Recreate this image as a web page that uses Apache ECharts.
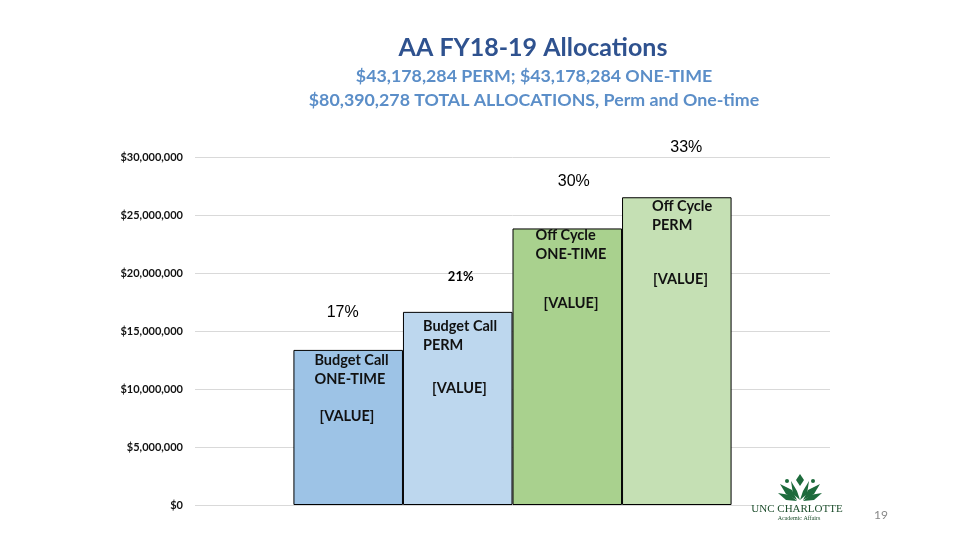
<!DOCTYPE html>
<html>
<head>
<meta charset="utf-8">
<script src="https://cdn.jsdelivr.net/npm/echarts@6/dist/echarts.min.js"></script>
<style>html,body{margin:0;padding:0;background:#fff}#c{width:960px;height:540px}</style>
</head>
<body>
<div id="c"></div>
<script>
// ---- data ----
const categories = ['FY18-19'];
const seriesNames = ['Budget Call ONE-TIME', 'Budget Call PERM', 'Off Cycle ONE-TIME', 'Off Cycle PERM'];
const labelLine1 = ['Budget Call', 'Budget Call', 'Off Cycle', 'Off Cycle'];
const labelLine2 = ['ONE-TIME', 'PERM', 'ONE-TIME', 'PERM'];
const values = [13370000, 16650000, 23840000, 26530000];
const percentLabels = ['17%', '21%', '30%', '33%'];
const yMin = 0, yMax = 30000000, yInterval = 5000000;
const titleText = 'AA FY18-19 Allocations';
const subText = '$43,178,284 PERM; $43,178,284 ONE-TIME\n$80,390,278 TOTAL ALLOCATIONS, Perm and One-time';

// ---- styles ----
const barColors = ['#9dc3e6', '#bdd7ee', '#a9d18e', '#c5e0b4'];
const innerPos = [[21, 1], [20, 4.5], [23, -2.5], [30, -0.5]];
const valuePad = [5, 9, 8, 1];
const valueLineH = [55, 67, 79, 89];
const pctOffset = [[-5.5, -37], [3, -35], [6.5, -47], [9.5, -50]];
const pctFont = [
  {fontFamily: 'Liberation Sans', fontSize: 16, fontWeight: 'normal'},
  {fontFamily: 'Lato', fontSize: 13, fontWeight: 'bold'},
  {fontFamily: 'Liberation Sans', fontSize: 16, fontWeight: 'normal'},
  {fontFamily: 'Liberation Sans', fontSize: 16, fontWeight: 'normal'}
];
const logoGreen = '#1d6b3c';

const chart = echarts.init(document.getElementById('c'), null, {renderer: 'canvas'});

const series = values.map((v, i) => ({
  name: seriesNames[i],
  type: 'bar',
  data: [v],
  barGap: '0%',
  barCategoryGap: '31%',
  itemStyle: {color: barColors[i], borderColor: '#000', borderWidth: 1},
  label: {
    show: true,
    position: innerPos[i],
    align: 'left',
    verticalAlign: 'top',
    formatter: '{t|' + labelLine1[i] + '}\n{t|' + labelLine2[i] + '}\n{v|[VALUE]}',
    rich: {
      t: {fontFamily: 'Lato', fontSize: 14.5, fontWeight: 'bold', color: '#111', lineHeight: 19},
      v: {fontFamily: 'Lato', fontSize: 14.5, fontWeight: 'bold', color: '#111', lineHeight: valueLineH[i], padding: [0, 0, 0, valuePad[i]]}
    }
  },
  markPoint: {
    symbol: 'rect',
    symbolSize: 0,
    silent: true,
    data: [{coord: [categories[0], v], value: percentLabels[i]}],
    label: Object.assign({show: true, position: 'inside', offset: pctOffset[i], color: '#000', formatter: percentLabels[i]}, pctFont[i])
  },
  emphasis: {disabled: true}
}));

function poly(pts) {
  return {type: 'polygon', z: 101, shape: {points: pts}, style: {fill: logoGreen}};
}

chart.setOption({
  animation: false,
  backgroundColor: '#fff',
  title: [
    {text: titleText, left: 528, top: 30, textAlign: 'center',
     textStyle: {fontFamily: 'Lato', fontSize: 25, fontWeight: 'bold', color: '#2f528f'}},
    {text: subText, left: 529, top: 59, textAlign: 'center',
     textStyle: {fontFamily: 'Lato', fontSize: 17.8, fontWeight: 'bold', color: '#5b8ec8', lineHeight: 24}}
  ],
  grid: {left: 195, right: 130, top: 157, bottom: 35, containLabel: false},
  xAxis: {
    type: 'category',
    data: categories,
    axisLine: {show: false},
    axisTick: {show: false},
    axisLabel: {show: false}
  },
  yAxis: {
    type: 'value',
    min: yMin, max: yMax, interval: yInterval,
    axisLine: {show: false},
    axisTick: {show: false},
    splitLine: {lineStyle: {color: '#d9d9d9', width: 1}},
    axisLabel: {
      margin: 12,
      fontFamily: 'Lato', fontSize: 11, fontWeight: 'bold', color: '#111',
      formatter: v => '$' + v.toLocaleString('en-US')
    }
  },
  series: series,
  graphic: {
    elements: [
      {type: 'rect', z: 100, shape: {x: 752, y: 470, width: 100, height: 55}, style: {fill: '#ffffff'}},
      poly([[800, 474], [804, 480], [800, 486], [796, 480]]),
      poly([[791, 481], [797, 491], [800, 500], [793, 494]]),
      poly([[809, 481], [803, 491], [800, 500], [807, 494]]),
      poly([[780, 484], [792, 490], [797, 500], [786, 494]]),
      poly([[820, 484], [808, 490], [803, 500], [814, 494]]),
      poly([[778, 493], [790, 495], [797, 501], [786, 500]]),
      poly([[822, 493], [810, 495], [803, 501], [814, 500]]),
      {type: 'circle', z: 101, shape: {cx: 787, cy: 481, r: 2}, style: {fill: logoGreen}},
      {type: 'circle', z: 101, shape: {cx: 813, cy: 481, r: 2}, style: {fill: logoGreen}},
      {type: 'text', z: 101, x: 797, y: 509, style: {text: 'UNC CHARLOTTE', font: '11px "Liberation Serif"', fill: '#1d4d2c', align: 'center', verticalAlign: 'middle'}},
      {type: 'text', z: 101, x: 799, y: 518, style: {text: 'Academic Affairs', font: '6px "Liberation Serif"', fill: '#1d4d2c', align: 'center', verticalAlign: 'middle'}},
      {type: 'text', z: 101, x: 881, y: 515, style: {text: '19', font: '12px Lato', fill: '#888', align: 'center', verticalAlign: 'middle'}}
    ]
  }
});
</script>
</body>
</html>
